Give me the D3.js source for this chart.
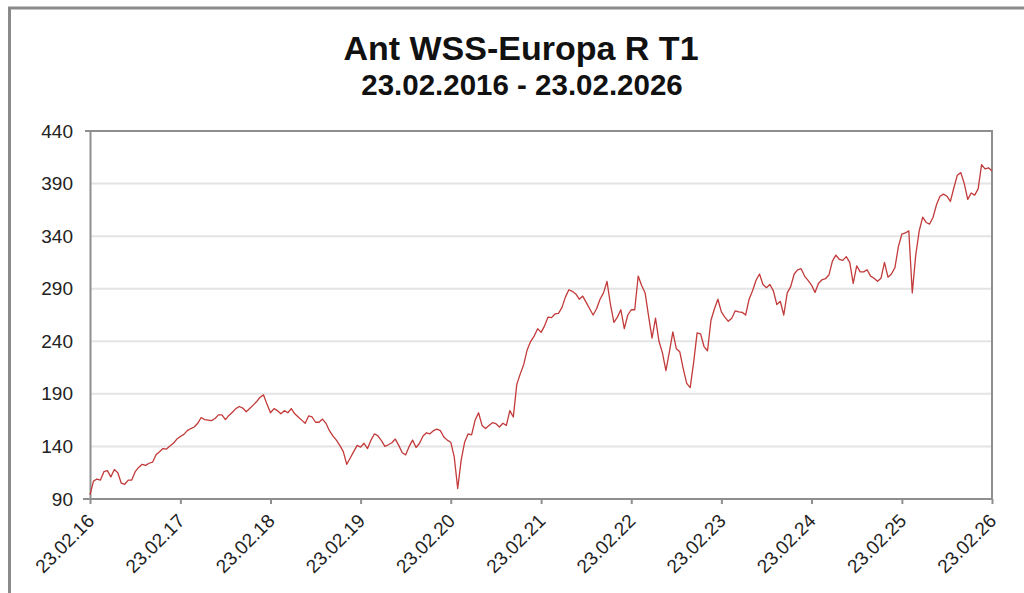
<!DOCTYPE html>
<html>
<head>
<meta charset="utf-8">
<script src="https://cdn.jsdelivr.net/npm/d3@7"></script>
<style>
  body { margin: 0; background: #fff; }
  svg { display: block; font-family: "Liberation Sans", Arial, sans-serif; }
</style>
</head>
<body>
<svg id="chart" width="1024" height="593"></svg>
<script>
// values, 26 per year from 23.02. to 23.02.
const v2016 = [94, 107, 109, 108, 116, 117, 111, 118, 115, 105, 104, 108, 108, 116, 120, 123, 122, 124, 125, 132, 135, 138, 137.5, 140.5, 143, 147];
const v2017 = [149.5, 151.5, 155, 157, 158.5, 162, 167.5, 165.5, 165, 164.5, 166.5, 170, 170, 165.5, 169.5, 172.5, 176, 178, 176.5, 173, 176, 179.3, 182.7, 186.8, 189, 180];
const v2018 = [172, 176, 174, 171, 174, 172, 176, 171, 168, 165, 162, 169, 168, 163, 163, 166, 162, 155, 150, 146, 141, 135, 123, 129, 135, 141];
const v2019 = [139.4, 143, 138, 146, 152, 150, 145.5, 140, 141.6, 143.5, 147, 141, 134, 132, 140, 146, 139, 143, 150, 153, 152, 155, 156.5, 155, 149, 146];
const v2020 = [144, 130, 100, 127, 144, 152, 151, 164.8, 172, 160, 157, 160, 162.6, 161.6, 158.5, 162, 160, 174, 168, 199, 209, 218, 232, 240, 245, 252];
const v2021 = [248.5, 254.7, 263, 262.5, 266, 266.5, 272, 282, 289, 287.5, 285, 280, 283, 277, 271, 265, 271, 280, 286, 297, 275, 258, 263, 270, 252, 265];
const v2022 = [270, 270, 302, 293, 286, 264, 243, 262, 240, 229, 212, 230, 249, 233, 230, 214, 200, 196, 220, 248, 247, 235, 231, 260, 271, 280];
const v2023 = [268, 263, 259, 262, 269, 268, 267.5, 265, 280, 288, 298, 304, 294, 291, 294, 288, 275, 278, 265, 286, 292, 304, 308, 309, 302, 298];
const v2024 = [293.5, 286.5, 295, 298.5, 299.5, 303, 316, 322, 318, 317, 320.5, 315, 295, 311.8, 306, 306, 308, 302, 300, 297, 300, 315, 301, 304, 310, 330];
const v2025 = [342, 343, 345, 286, 322, 345, 358, 353, 351.5, 358, 370, 378, 380, 378, 373, 386, 398, 400.4, 390, 375, 381, 379, 385, 408, 404, 405];
const lastValue = 402;

const years = [2016, 2017, 2018, 2019, 2020, 2021, 2022, 2023, 2024, 2025];
const yearValues = [v2016, v2017, v2018, v2019, v2020, v2021, v2022, v2023, v2024, v2025];
const yTicks = [90, 140, 190, 240, 290, 340, 390, 440];
const xTickYears = [2016, 2017, 2018, 2019, 2020, 2021, 2022, 2023, 2024, 2025, 2026];

const title = 'Ant WSS-Europa R T1';
const subtitle = '23.02.2016 - 23.02.2026';

const margin = {left: 90, right: 32, top: 131, bottom: 94};
const width = 1024, height = 593;

// build the point list
let points = [];
years.forEach(function(yr, k) {
    const a = new Date(yr, 1, 23), b = new Date(yr + 1, 1, 23);
    const vals = yearValues[k];
    vals.forEach(function(v, i) {
        points.push({date: new Date(+a + (b - a) * i / vals.length), value: v});
    });
});
points.push({date: new Date(2026, 1, 23), value: lastValue});

const svg = d3.select('#chart');

const x = d3.scaleTime()
    .domain([new Date(2016, 1, 23), new Date(2026, 1, 23)])
    .range([margin.left, width - margin.right]);
const y = d3.scaleLinear()
    .domain([90, 440])
    .range([height - margin.bottom, margin.top]);

// outer frame
svg.append('line').attr('x1', 8).attr('x2', width).attr('y1', 8).attr('y2', 8)
    .attr('stroke', '#8a8a8a').attr('stroke-width', 3);
svg.append('line').attr('x1', 9.5).attr('x2', 9.5).attr('y1', 7).attr('y2', height)
    .attr('stroke', '#8a8a8a').attr('stroke-width', 3);

// titles
svg.append('text')
    .attr('x', 521).attr('y', 60)
    .attr('text-anchor', 'middle')
    .style('font-size', '34px').style('font-weight', 'bold').style('fill', '#111')
    .text(title);
svg.append('text')
    .attr('x', 522).attr('y', 95)
    .attr('text-anchor', 'middle')
    .style('font-size', '29.5px').style('font-weight', 'bold').style('fill', '#111')
    .text(subtitle);

// grid
svg.append('g').selectAll('line')
    .data(yTicks.slice(1, -1))
    .join('line')
    .attr('x1', x.range()[0] + 1).attr('x2', x.range()[1])
    .attr('y1', d => y(d)).attr('y2', d => y(d))
    .attr('stroke', '#e4e4e4').attr('stroke-width', 2);

// top and right border
svg.append('line')
    .attr('x1', x.range()[0] - 5).attr('x2', x.range()[1] + 1)
    .attr('y1', y(440)).attr('y2', y(440))
    .attr('stroke', '#8f8f8f').attr('stroke-width', 2);
svg.append('line')
    .attr('x1', x.range()[1]).attr('x2', x.range()[1])
    .attr('y1', y(440)).attr('y2', y(90))
    .attr('stroke', '#8f8f8f').attr('stroke-width', 2);

// y axis
const yAxis = svg.append('g')
    .attr('transform', 'translate(' + margin.left + ',0)')
    .call(d3.axisLeft(y).tickValues(yTicks).tickSize(0).tickPadding(17));
yAxis.select('.domain').attr('stroke', '#8f8f8f').attr('stroke-width', 2);
yAxis.selectAll('text')
    .style('font-size', '19px').style('fill', '#222')
    .attr('font-family', null);

// x axis
const xAxis = svg.append('g')
    .attr('transform', 'translate(0,' + y(90) + ')')
    .call(d3.axisBottom(x)
        .tickValues(xTickYears.map(yr => new Date(yr, 1, 23)))
        .tickFormat(d3.timeFormat('%d.%m.%y'))
        .tickSizeInner(5).tickSizeOuter(0));
xAxis.select('.domain')
    .attr('d', 'M' + (x.range()[0] - 7) + ',0H' + (x.range()[1] + 1))
    .attr('stroke', '#8f8f8f').attr('stroke-width', 2);
xAxis.selectAll('.tick line').attr('stroke', '#8f8f8f').attr('stroke-width', 2);
xAxis.selectAll('text')
    .attr('x', 0).attr('y', 0).attr('dy', 0)
    .attr('transform', 'translate(5,23) rotate(-45)')
    .style('text-anchor', 'end')
    .style('font-size', '19px').style('fill', '#222')
    .attr('font-family', null);

// price line
const line = d3.line()
    .x(d => x(d.date))
    .y(d => y(d.value));

svg.append('path')
    .datum(points)
    .attr('d', line)
    .attr('fill', 'none')
    .attr('stroke', '#c23a3a')
    .attr('stroke-width', 1.3)
    .attr('stroke-linejoin', 'round');
</script>
</body>
</html>
